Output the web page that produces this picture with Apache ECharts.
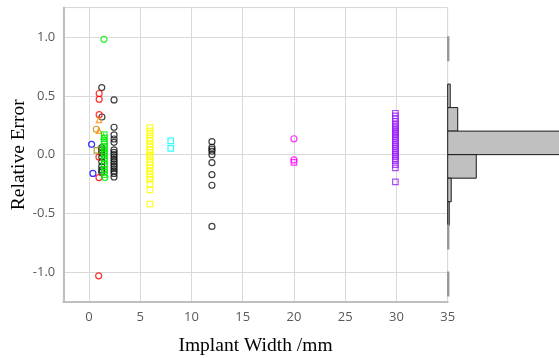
<!DOCTYPE html>
<html lang="en">
<head>
	<meta charset="UTF-8">
	<title>Relative Error</title>
	<style>
       html, body { margin: 0; padding: 0; background: #fff; }
       #chart_box { width: 559px; height: 358px; }
	</style>
	<script type="text/javascript" src="https://cdn.jsdelivr.net/npm/echarts@6/dist/echarts.min.js"></script>
</head>
<body>
	<div id="chart_box"></div>
	<script type="text/javascript">
      // scatter groups, [implant width, relative error]
      var blackCircles = [
        [1.25, 0.57], [1.27, 0.32], [1.25, 0.06], [1.25, 0.04], [1.25, 0.015], [1.25, -0.02],
        [1.25, -0.06], [1.25, -0.10], [1.25, -0.13], [1.25, -0.15],
        [2.45, 0.465], [2.45, 0.233], [2.45, 0.168], [2.45, 0.133], [2.45, 0.105], [2.45, 0.04],
        [2.45, 0.02], [2.45, 0.0], [2.45, -0.02], [2.45, -0.04], [2.45, -0.06], [2.45, -0.08],
        [2.45, -0.10], [2.45, -0.12], [2.45, -0.14], [2.45, -0.16], [2.45, -0.19],
        [12, 0.11], [12, 0.063], [12, 0.046], [12, 0.029], [12, 0.0], [12, -0.068],
        [12, -0.17], [12, -0.26], [12, -0.61]
      ];
      var redCircles = [[1.0, 0.52], [1.0, 0.47], [1.0, 0.34], [0.98, -0.02], [0.98, -0.195], [0.95, -1.03]];
      var orangeTriangles = [[0.98, 0.295], [0.98, 0.204]];
      var oliveCircles = [[0.72, 0.216]];
      var oliveSquares = [[0.78, 0.037]];
      var blueCircles = [[0.26, 0.088], [0.39, -0.16]];
      var greenCircles = [[1.46, 0.98], [1.56, -0.195]];
      var greenTriangles = [[1.44, 0.153]];
      var greenSquares = [
        [1.5, 0.17], [1.5, 0.14], [1.5, 0.11], [1.5, 0.09], [1.5, 0.07], [1.5, 0.05], [1.5, 0.03], [1.5, 0.01],
        [1.5, -0.01], [1.5, -0.03], [1.5, -0.05], [1.5, -0.08], [1.5, -0.10], [1.5, -0.13], [1.5, -0.15], [1.5, -0.17]
      ];
      var yellowSquares = [
        [5.95, 0.23], [5.95, 0.20], [5.95, 0.17], [5.95, 0.14], [5.95, 0.117], [5.95, 0.088], [5.95, 0.065],
        [5.95, 0.043], [5.95, 0.02], [5.95, -0.003], [5.95, -0.014], [5.95, -0.037], [5.95, -0.065],
        [5.95, -0.088], [5.95, -0.11], [5.95, -0.14], [5.95, -0.167], [5.95, -0.19], [5.95, -0.21],
        [5.95, -0.25], [5.95, -0.30], [5.95, -0.42]
      ];
      var cyanSquares = [[7.98, 0.117], [7.98, 0.054]];
      var magentaCircles = [[20, 0.135], [20, -0.045]];
      var magentaSquares = [[20, -0.065]];
      var purpleSquares = [
        [29.9, 0.352], [29.9, 0.329], [29.9, 0.306], [29.9, 0.284], [29.9, 0.261], [29.9, 0.244], [29.9, 0.227],
        [29.9, 0.21], [29.9, 0.193], [29.9, 0.182], [29.9, 0.17], [29.9, 0.153], [29.9, 0.136], [29.9, 0.119],
        [29.9, 0.102], [29.9, 0.085], [29.9, 0.068], [29.9, 0.051], [29.9, 0.034], [29.9, 0.017], [29.9, 0.0],
        [29.9, -0.017], [29.9, -0.034], [29.9, -0.051], [29.9, -0.085], [29.9, -0.113], [29.9, -0.232]
      ];

      // histogram on the right: lower bin edge and count
      var histLow = [0.8, 0.6, 0.4, 0.2, 0.0, -0.2, -0.4, -0.6, -0.8, -1.0, -1.2];
      var histCounts = [2, 0, 5, 20, 240, 57, 7, 3, 2, 0, 2];
      var binWidth = 0.2;

      var chart = echarts.init(document.getElementById('chart_box'));

      var pts = function (data, symbol, color) {
        return {
          type: 'scatter',
          xAxisIndex: 0,
          yAxisIndex: 0,
          symbol: symbol,
          symbolSize: symbol == 'circle' ? 6 : 5.5,
          itemStyle: { color: 'rgba(0,0,0,0)', borderColor: color, borderWidth: 1.2 },
          emphasis: { disabled: true },
          data: data
        };
      };

      var labelStyle = { color: '#595959', fontFamily: 'Open Sans', fontSize: 13 };
      var nameStyle = { color: '#000', fontFamily: 'Liberation Serif', fontSize: 19.5 };

      var option = {
        animation: false,
        grid: [
          { left: 63.3, right: 111.3, top: 7.6, bottom: 56.3, show: true, borderColor: '#d9d9d9', borderWidth: 1,
            containLabel: false, outerBoundsMode: 'none' },
          { left: 447.7, right: 0, top: 7.6, bottom: 56.3, containLabel: false, outerBoundsMode: 'none' }
        ],
        xAxis: [
          {
            gridIndex: 0,
            type: 'value',
            min: -2.5,
            max: 35,
            splitNumber: 8,
            name: 'Implant Width /mm',
            nameLocation: 'middle',
            nameGap: 34,
            nameMoveOverlap: false,
            nameTextStyle: nameStyle,
            axisLine: { onZero: false, lineStyle: { color: '#bfbfbf', width: 2 } },
            axisTick: { show: false },
            axisLabel: Object.assign({ margin: 9, showMinLabel: false }, labelStyle),
            splitLine: { lineStyle: { color: '#d9d9d9', width: 1 } }
          },
          { gridIndex: 1, type: 'value', min: 0, max: 222, show: false }
        ],
        yAxis: [
          {
            gridIndex: 0,
            type: 'value',
            min: -1.25,
            max: 1.25,
            splitNumber: 5,
            name: 'Relative Error',
            nameLocation: 'middle',
            nameGap: 34,
            nameMoveOverlap: false,
            nameTextStyle: nameStyle,
            axisLine: { onZero: false, lineStyle: { color: '#bfbfbf', width: 2 } },
            axisTick: { show: false },
            axisLabel: Object.assign({
              margin: 8, showMinLabel: false, showMaxLabel: false,
              formatter: function (v) { return v.toFixed(1); }
            }, labelStyle),
            splitLine: { lineStyle: { color: '#d9d9d9', width: 1 } }
          },
          { gridIndex: 1, type: 'value', min: -1.25, max: 1.25, show: false }
        ],
        series: [
          pts(blackCircles, 'circle', '#111111'),
          pts(redCircles, 'circle', '#ff0000'),
          pts(oliveCircles, 'circle', '#c08a00'),
          pts(oliveSquares, 'rect', '#8c8a00'),
          pts(orangeTriangles, 'triangle', '#ff8c00'),
          pts(blueCircles, 'circle', '#0000ff'),
          pts(greenSquares, 'rect', '#00ee00'),
          pts(greenCircles, 'circle', '#00ee00'),
          pts(greenTriangles, 'triangle', '#00ee00'),
          pts(yellowSquares, 'rect', '#ffff00'),
          pts(cyanSquares, 'rect', '#00ffff'),
          pts(magentaCircles, 'circle', '#ff00ff'),
          pts(magentaSquares, 'rect', '#ff00ff'),
          pts(purpleSquares, 'rect', '#9a1aff'),
          {
            type: 'custom',
            xAxisIndex: 1,
            yAxisIndex: 1,
            clip: true,
            encode: { x: 1, y: 0 },
            data: histLow.map(function (v, i) { return [v, histCounts[i]]; }),
            renderItem: function (params, api) {
              var lo = api.value(0), n = api.value(1);
              if (!n) return null;
              var a = api.coord([0, lo + binWidth]);
              var b = api.coord([n, lo]);
              var thin = b[0] - a[0] < 1.5;
              return {
                type: 'rect',
                shape: { x: a[0], y: a[1], width: b[0] - a[0], height: b[1] - a[1] },
                style: { fill: '#c0c0c0', stroke: thin ? '#999999' : '#1a1a1a', lineWidth: thin ? 1.5 : 1 }
              };
            }
          }
        ]
      };
      chart.setOption(option);
	</script>
</body>
</html>
